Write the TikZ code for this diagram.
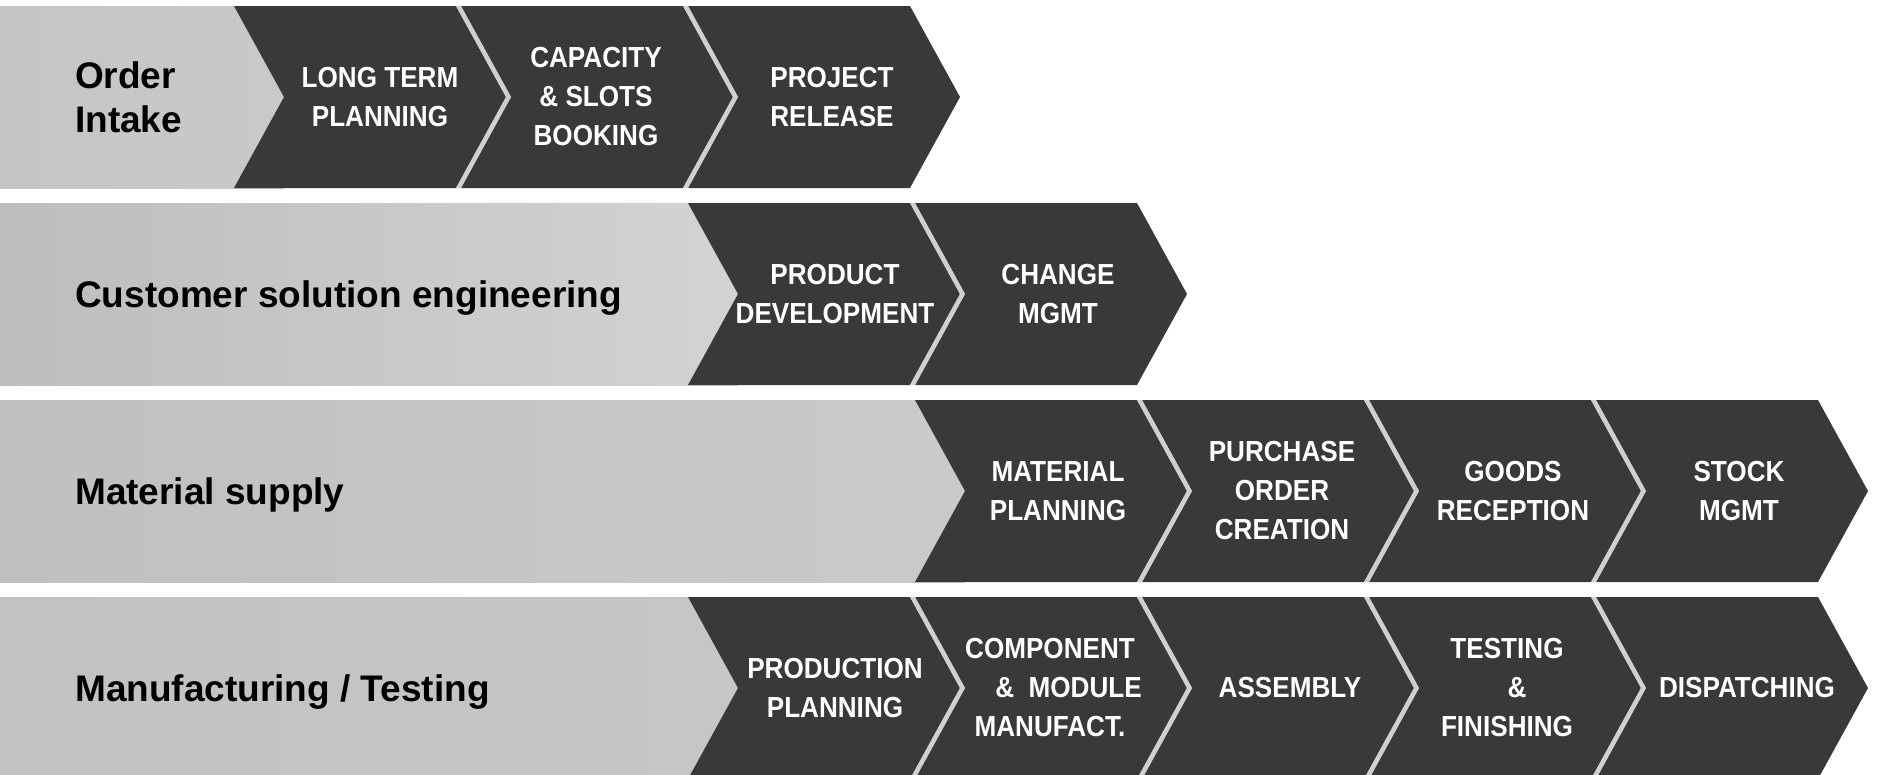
\documentclass[tikz,border=0pt]{standalone}
\usepackage{fontspec}
\setmainfont{Liberation Sans}
\newfontfamily\chevfont{Liberation Sans}[FakeStretch=0.9]
\definecolor{chevdark}{HTML}{393939}
\definecolor{gapgray}{HTML}{CFCFCF}
\tikzset{
  chevfill/.style={fill=chevdark},
  gapfill/.style={fill=gapgray},
  chevtext/.style={text=white, align=center, inner sep=0pt,
    font=\chevfont\bfseries\fontsize{29}{39}\selectfont},
  rowlabel/.style={text=black, align=left, inner sep=0pt, anchor=west,
    font=\bfseries\fontsize{37}{44}\selectfont},
}
\newcommand\chevshape[2]{% x0, top
  \fill[chevfill] (#1,#2) -- ++(222,0) -- ++(50,91) -- ++(-50,91) -- ++(-222,0) -- ++(50,-91) -- cycle;}
\newcommand\chevgap[2]{% x0, top
  \fill[gapfill] (#1-5,#2) -- (#1,#2) -- (#1+50,#2+91) -- (#1,#2+182) -- (#1-5,#2+182) -- (#1+45,#2+91) -- cycle;}
\begin{document}
\begin{tikzpicture}[x=1pt,y=-1pt]
\useasboundingbox (0,0) rectangle (1877,774);
\clip (0,0) rectangle (1877,774);
\fill[white] (0,0) rectangle (1877,774);

% ---------- Row 1 ----------
\fill[left color={rgb,255:red,197;green,197;blue,197}, right color={rgb,255:red,201;green,201;blue,201}] (0,6) rectangle (284,188);
\chevshape{234}{6}
\chevshape{461}{6}\chevgap{461}{6}
\chevshape{688}{6}\chevgap{688}{6}
\node[rowlabel] (r1) at (75,97) {Order\\Intake};
\node[chevtext] (c11) at (380,97) {LONG TERM\\PLANNING};
\node[chevtext] (c12) at (596,97) {CAPACITY\\\& SLOTS\\BOOKING};
\node[chevtext] (c13) at (832,97) {PROJECT\\RELEASE};

% ---------- Row 2 ----------
\fill[left color={rgb,255:red,189;green,189;blue,189}, right color={rgb,255:red,211;green,211;blue,211}] (0,203) rectangle (738,385);
\chevshape{688}{203}
\chevshape{915}{203}\chevgap{915}{203}
\node[rowlabel, text height=26.5pt, text depth=0pt] (r2) at (75,294) {Customer solution engineering};
\node[chevtext] (c21) at (835,294) {PRODUCT\\DEVELOPMENT};
\node[chevtext] (c22) at (1058,294) {CHANGE\\MGMT};

% ---------- Row 3 ----------
\fill[left color={rgb,255:red,192;green,192;blue,192}, right color={rgb,255:red,202;green,202;blue,202}] (0,400) rectangle (965,582);
\chevshape{915}{400}
\chevshape{1142}{400}\chevgap{1142}{400}
\chevshape{1369}{400}\chevgap{1369}{400}
\chevshape{1596}{400}\chevgap{1596}{400}
\node[rowlabel, text height=26.5pt, text depth=0pt] (r3) at (75,491) {Material supply};
\node[chevtext] (c31) at (1058,491) {MATERIAL\\PLANNING};
\node[chevtext] (c32) at (1282,491) {PURCHASE\\ORDER\\CREATION};
\node[chevtext] (c33) at (1513,491) {GOODS\\RECEPTION};
\node[chevtext] (c34) at (1739,491) {STOCK\\MGMT};

% ---------- Row 4 ----------
\fill[left color={rgb,255:red,194;green,194;blue,194}, right color={rgb,255:red,198;green,198;blue,198}] (0,597) rectangle (738,779);
\chevshape{688}{597}
\chevshape{915}{597}\chevgap{915}{597}
\chevshape{1142}{597}\chevgap{1142}{597}
\chevshape{1369}{597}\chevgap{1369}{597}
\chevshape{1596}{597}\chevgap{1596}{597}
\node[rowlabel, text height=26.5pt, text depth=0pt] (r4) at (75,688) {Manufacturing / Testing};
\node[chevtext] (c41) at (835,688) {PRODUCTION\\PLANNING};
\node[chevtext] (c42) at (1050,688) {COMPONENT\\\hspace*{37pt}\&\ \ MODULE\\MANUFACT.};
\node[chevtext] (c43) at (1290,688) {ASSEMBLY};
\node[chevtext] (c44) at (1507,688) {TESTING\\\hspace*{20pt}\&\\FINISHING};
\node[chevtext] (c45) at (1747,688) {DISPATCHING};
\end{tikzpicture}
\end{document}
